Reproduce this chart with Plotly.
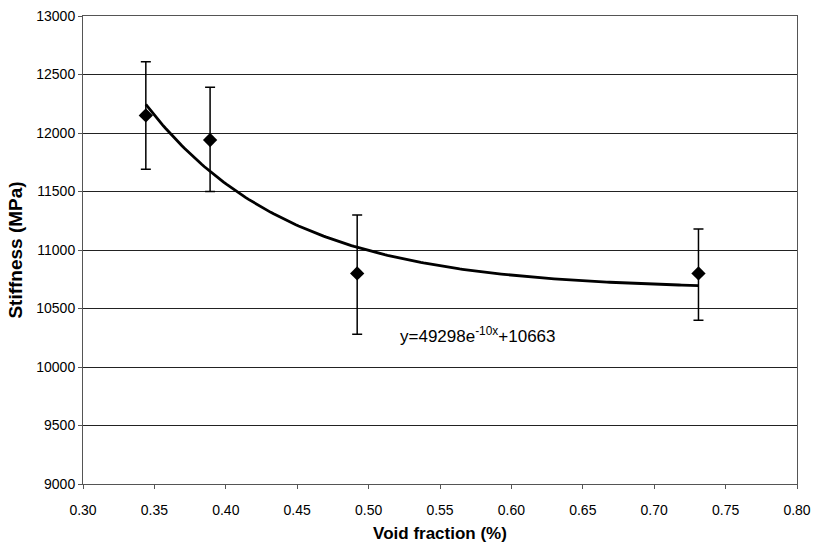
import numpy as np
import plotly.graph_objects as go

# Data
void_fraction = [0.344, 0.389, 0.492, 0.731]
stiffness = [12150, 11940, 10800, 10800]
error_plus = [460, 450, 500, 380]
error_minus = [460, 440, 520, 400]

# Trendline y = A*exp(B*x) + C (as labelled on the chart)
fit_A = 49298
fit_B = -10
fit_C = 10663
fit_label = "y=49298e<sup>-10x</sup>+10663"

x_ticks = [0.30, 0.35, 0.40, 0.45, 0.50, 0.55, 0.60, 0.65, 0.70, 0.75, 0.80]
y_ticks = [9000, 9500, 10000, 10500, 11000, 11500, 12000, 12500, 13000]

xf = np.linspace(min(void_fraction), max(void_fraction), 200)
yf = fit_A * np.exp(fit_B * xf) + fit_C

FONT = "Liberation Sans, Arial, sans-serif"

fig = go.Figure()
fig.add_trace(go.Scatter(
    x=xf, y=yf, mode="lines",
    line=dict(color="black", width=2.8),
    showlegend=False, hoverinfo="skip"))
fig.add_trace(go.Scatter(
    x=void_fraction, y=stiffness, mode="markers",
    marker=dict(symbol="diamond", size=11, color="black"),
    error_y=dict(type="data", symmetric=False, array=error_plus,
                 arrayminus=error_minus, color="black", thickness=1.5, width=5),
    showlegend=False))

fig.add_annotation(x=0.5766, y=10274, text=fit_label, showarrow=False,
                   font=dict(family=FONT, size=17, color="black"))

fig.update_layout(
    width=813, height=544,
    margin=dict(l=83, r=16, t=16, b=60),
    paper_bgcolor="white", plot_bgcolor="white",
    font=dict(family=FONT, size=14, color="black"),
    xaxis=dict(range=[0.30, 0.80], tickvals=x_ticks,
               ticktext=[f"{v:.2f}" for v in x_ticks],
               showgrid=False, zeroline=False, automargin=False,
               showline=True, linecolor="#555", linewidth=1, mirror=True,
               ticks="outside", ticklen=4, tickcolor="#555",
               tickfont=dict(size=14), ticklabelstandoff=9,
               title=dict(text="<b>Void fraction (%)</b>", font=dict(size=17), standoff=10)),
    yaxis=dict(range=[9000, 13000], tickvals=y_ticks,
               ticktext=[str(v) for v in y_ticks],
               showgrid=True, gridcolor="#222", gridwidth=1, zeroline=False, automargin=False,
               showline=True, linecolor="#555", linewidth=1, mirror=True,
               ticks="outside", ticklen=4, tickcolor="#555",
               tickfont=dict(size=14),
               title=dict(text="<b>Stiffness (MPa)</b>", font=dict(size=19), standoff=8)),
)

fig.write_html("out.html")
